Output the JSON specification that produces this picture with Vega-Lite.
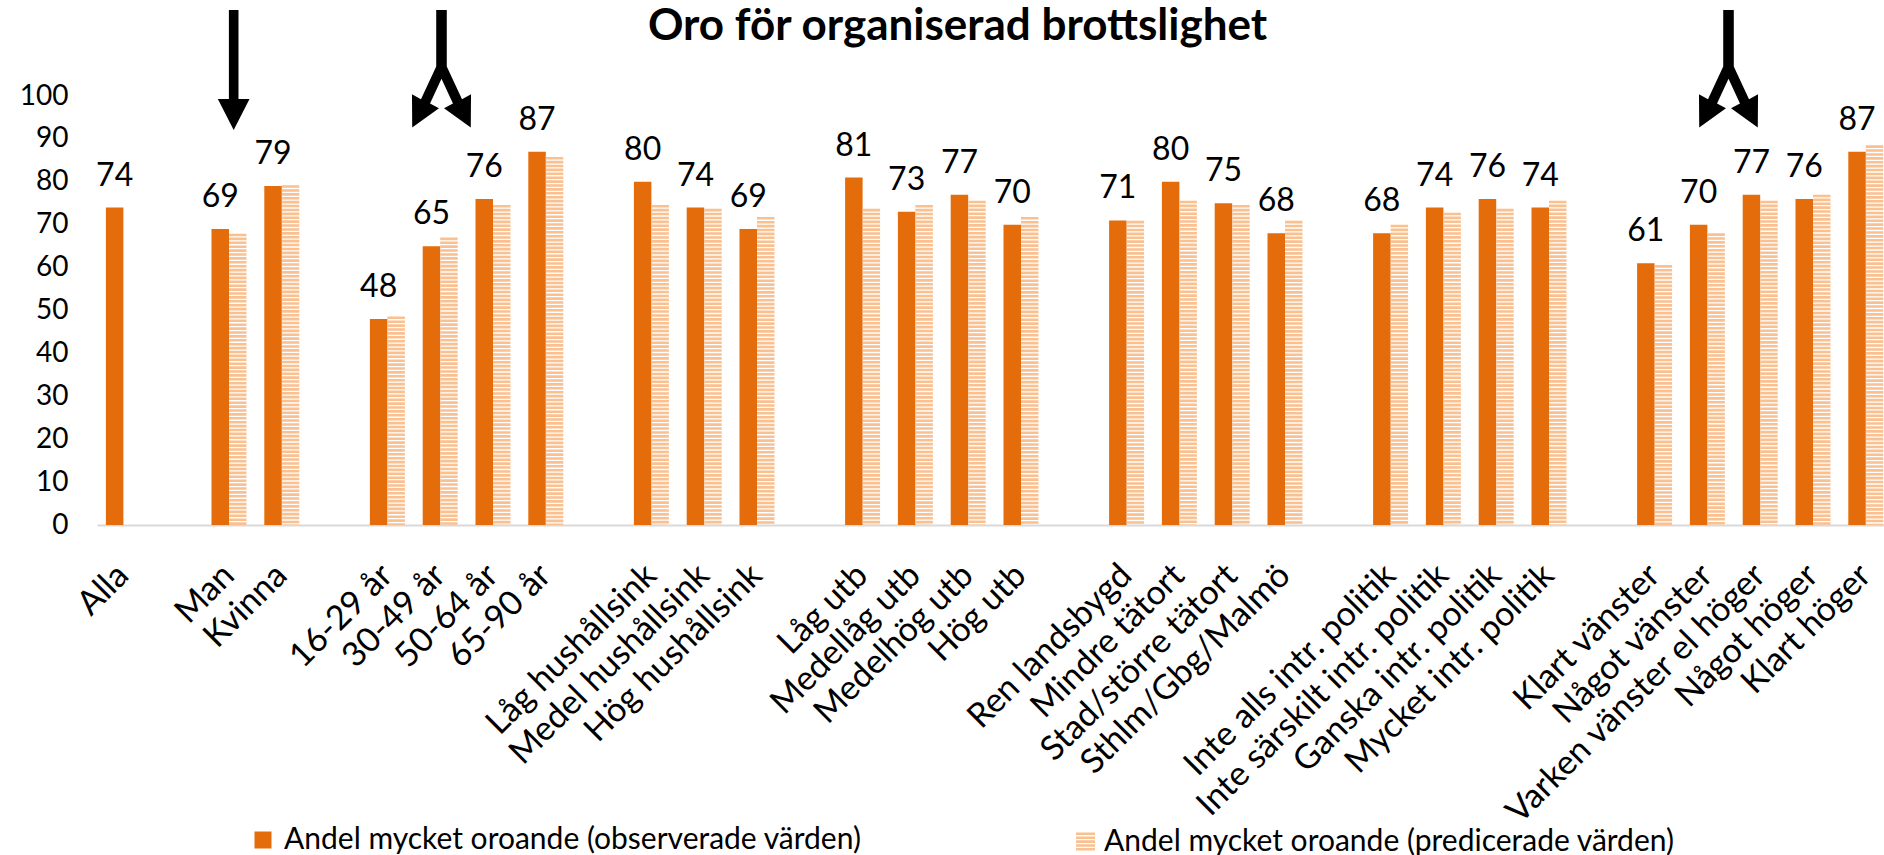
{
  "$schema": "https://vega.github.io/schema/vega-lite/v6.json",
  "width": 1787,
  "height": 429,
  "autosize": {"type": "none"},
  "padding": {"left": 97, "top": 96, "right": 0, "bottom": 330},
  "background": "white",
  "config": {"view": {"stroke": null}, "font": "Lato"},
  "title": {"text": "Oro för organiserad brottslighet", "font": "Lato", "fontSize": 44, "fontWeight": "bold", "color": "#000000", "anchor": "middle", "frame": "group", "dx": -33, "baseline": "alphabetic", "offset": -74},
  "data": {"values": [
    {"cat": "Alla", "series": "obs", "value": 74},
    {"cat": "Man", "series": "obs", "value": 69},
    {"cat": "Man", "series": "pred", "value": 67.9},
    {"cat": "Kvinna", "series": "obs", "value": 79},
    {"cat": "Kvinna", "series": "pred", "value": 79.2},
    {"cat": "16-29 år", "series": "obs", "value": 48},
    {"cat": "16-29 år", "series": "pred", "value": 48.6},
    {"cat": "30-49 år", "series": "obs", "value": 65},
    {"cat": "30-49 år", "series": "pred", "value": 67.0},
    {"cat": "50-64 år", "series": "obs", "value": 76},
    {"cat": "50-64 år", "series": "pred", "value": 74.6},
    {"cat": "65-90 år", "series": "obs", "value": 87},
    {"cat": "65-90 år", "series": "pred", "value": 85.8},
    {"cat": "Låg hushållsink", "series": "obs", "value": 80},
    {"cat": "Låg hushållsink", "series": "pred", "value": 74.6},
    {"cat": "Medel hushållsink", "series": "obs", "value": 74},
    {"cat": "Medel hushållsink", "series": "pred", "value": 73.7},
    {"cat": "Hög hushållsink", "series": "obs", "value": 69},
    {"cat": "Hög hushållsink", "series": "pred", "value": 71.8},
    {"cat": "Låg utb", "series": "obs", "value": 81},
    {"cat": "Låg utb", "series": "pred", "value": 73.7},
    {"cat": "Medellåg utb", "series": "obs", "value": 73},
    {"cat": "Medellåg utb", "series": "pred", "value": 74.6},
    {"cat": "Medelhög utb", "series": "obs", "value": 77},
    {"cat": "Medelhög utb", "series": "pred", "value": 75.6},
    {"cat": "Hög utb", "series": "obs", "value": 70},
    {"cat": "Hög utb", "series": "pred", "value": 71.8},
    {"cat": "Ren landsbygd", "series": "obs", "value": 71},
    {"cat": "Ren landsbygd", "series": "pred", "value": 70.9},
    {"cat": "Mindre tätort", "series": "obs", "value": 80},
    {"cat": "Mindre tätort", "series": "pred", "value": 75.6},
    {"cat": "Stad/större tätort", "series": "obs", "value": 75},
    {"cat": "Stad/större tätort", "series": "pred", "value": 74.6},
    {"cat": "Sthlm/Gbg/Malmö", "series": "obs", "value": 68},
    {"cat": "Sthlm/Gbg/Malmö", "series": "pred", "value": 70.9},
    {"cat": "Inte alls intr. politik", "series": "obs", "value": 68},
    {"cat": "Inte alls intr. politik", "series": "pred", "value": 70.0},
    {"cat": "Inte särskilt intr. politik", "series": "obs", "value": 74},
    {"cat": "Inte särskilt intr. politik", "series": "pred", "value": 72.8},
    {"cat": "Ganska intr. politik", "series": "obs", "value": 76},
    {"cat": "Ganska intr. politik", "series": "pred", "value": 73.7},
    {"cat": "Mycket intr. politik", "series": "obs", "value": 74},
    {"cat": "Mycket intr. politik", "series": "pred", "value": 75.6},
    {"cat": "Klart vänster", "series": "obs", "value": 61},
    {"cat": "Klart vänster", "series": "pred", "value": 60.6},
    {"cat": "Något vänster", "series": "obs", "value": 70},
    {"cat": "Något vänster", "series": "pred", "value": 68.0},
    {"cat": "Varken vänster el höger", "series": "obs", "value": 77},
    {"cat": "Varken vänster el höger", "series": "pred", "value": 75.6},
    {"cat": "Något höger", "series": "obs", "value": 76},
    {"cat": "Något höger", "series": "pred", "value": 77.0},
    {"cat": "Klart höger", "series": "obs", "value": 87},
    {"cat": "Klart höger", "series": "pred", "value": 88.5}
  ]},
  "encoding": {
    "x": {
      "field": "cat", "type": "nominal", "sort": null,
      "scale": {
        "domain": ["Alla","gap1","Man","Kvinna","gap2","16-29 år","30-49 år","50-64 år","65-90 år","gap3","Låg hushållsink","Medel hushållsink","Hög hushållsink","gap4","Låg utb","Medellåg utb","Medelhög utb","Hög utb","gap5","Ren landsbygd","Mindre tätort","Stad/större tätort","Sthlm/Gbg/Malmö","gap6","Inte alls intr. politik","Inte särskilt intr. politik","Ganska intr. politik","Mycket intr. politik","gap7","Klart vänster","Något vänster","Varken vänster el höger","Något höger","Klart höger"],
        "range": [0, 1795.2],
        "paddingInner": 0.337,
        "paddingOuter": 0.1685
      },
      "axis": {
        "title": null, "labelAngle": -45, "labelAlign": "right", "labelBaseline": "middle",
        "labelFont": "Lato", "labelFontSize": 34, "labelColor": "#000000", "labelPadding": 45,
        "ticks": false, "domainColor": "#D9D9D9", "domainWidth": 2, "labelOverlap": false, "labelLimit": 800,
        "labelExpr": "indexof(datum.value, 'gap') == 0 ? '' : datum.value"
      }
    },
    "y": {
      "field": "value", "type": "quantitative",
      "scale": {"domain": [0, 100], "nice": false},
      "axis": {
        "title": null, "values": [0,10,20,30,40,50,60,70,80,90,100], "grid": false, "domain": false, "ticks": false,
        "labelFont": "Lato", "labelFontSize": 28, "labelColor": "#000000", "labelPadding": 29
      }
    }
  },
  "layer": [
    {
      "transform": [{"filter": "datum.series == 'obs'"}],
      "mark": {"type": "bar"},
      "encoding": {
        "xOffset": {"field": "series", "scale": {"domain": ["obs", "pred"], "paddingInner": 0, "paddingOuter": 0}},
        "fill": {
          "datum": "Andel mycket oroande (observerade värden)",
          "scale": {"range": ["#E46C0A"]},
          "legend": {"orient": "none", "legendX": 151, "legendY": 729, "title": null, "symbolType": "square", "symbolSize": 289, "symbolStrokeWidth": 0, "labelFont": "Lato", "labelFontSize": 30, "labelColor": "#000000", "labelLimit": 800, "padding": 0, "labelOffset": 6}
        }
      }
    },
    {
      "transform": [{"filter": "datum.series == 'pred'"}],
      "mark": {"type": "rule", "strokeWidth": 17.5, "strokeDash": [2.6, 1.3], "strokeCap": "butt"},
      "encoding": {
        "xOffset": {"field": "series"},
        "y2": {"datum": 0},
        "stroke": {
          "datum": "Andel mycket oroande (predicerade värden)",
          "scale": {"range": ["#FAC090"]},
          "legend": {"orient": "none", "legendX": 970, "legendY": 727, "title": null, "symbolType": "M0,-1L0,1", "symbolSize": 324, "symbolStrokeWidth": 19, "symbolDash": [2.6, 1.3], "labelFont": "Lato", "labelFontSize": 30, "labelColor": "#000000", "labelLimit": 800, "padding": 0, "labelOffset": 0}
        }
      }
    },
    {
      "transform": [{"filter": "datum.series == 'obs'"}],
      "mark": {"type": "text", "font": "Lato", "fontSize": 32, "baseline": "alphabetic", "dy": -22, "color": "#000000"},
      "encoding": {
        "xOffset": {"field": "series"},
        "text": {"field": "value", "type": "quantitative", "format": "d"}
      }
    },
    {
      "data": {"values": [{"cat": "Man", "value": 106.06}]},
      "mark": {"type": "point", "shape": "M-0.08,-1L0.08,-1L0.08,0.483L0.264,0.483L0,1L-0.264,0.483L-0.08,0.483Z", "size": 14400, "filled": true, "color": "#000000", "opacity": 1, "strokeWidth": 0},
      "encoding": {"x": {"field": "cat", "type": "nominal", "bandPosition": 0.634}}
    },
    {
      "data": {"values": [{"cat": "30-49 år", "value": 106.06}]},
      "mark": {"type": "point", "shape": "M-0.088,-1L0.088,-1L0.088,-0.058L0.342,0.487L0.492,0.405L0.488,0.958L0.042,0.638L0.191,0.557L0,0.147L-0.191,0.557L-0.042,0.638L-0.488,0.958L-0.492,0.405L-0.342,0.487L-0.088,-0.058Z", "size": 14400, "filled": true, "color": "#000000", "opacity": 1, "strokeWidth": 0},
      "encoding": {"x": {"field": "cat", "type": "nominal", "bandPosition": 0.537}}
    },
    {
      "data": {"values": [{"cat": "Något vänster", "value": 106.06}]},
      "mark": {"type": "point", "shape": "M-0.088,-1L0.088,-1L0.088,-0.058L0.342,0.487L0.492,0.405L0.488,0.958L0.042,0.638L0.191,0.557L0,0.147L-0.191,0.557L-0.042,0.638L-0.488,0.958L-0.492,0.405L-0.342,0.487L-0.088,-0.058Z", "size": 14400, "filled": true, "color": "#000000", "opacity": 1, "strokeWidth": 0},
      "encoding": {"x": {"field": "cat", "type": "nominal", "bandPosition": 1.103}}
    }
  ]
}
